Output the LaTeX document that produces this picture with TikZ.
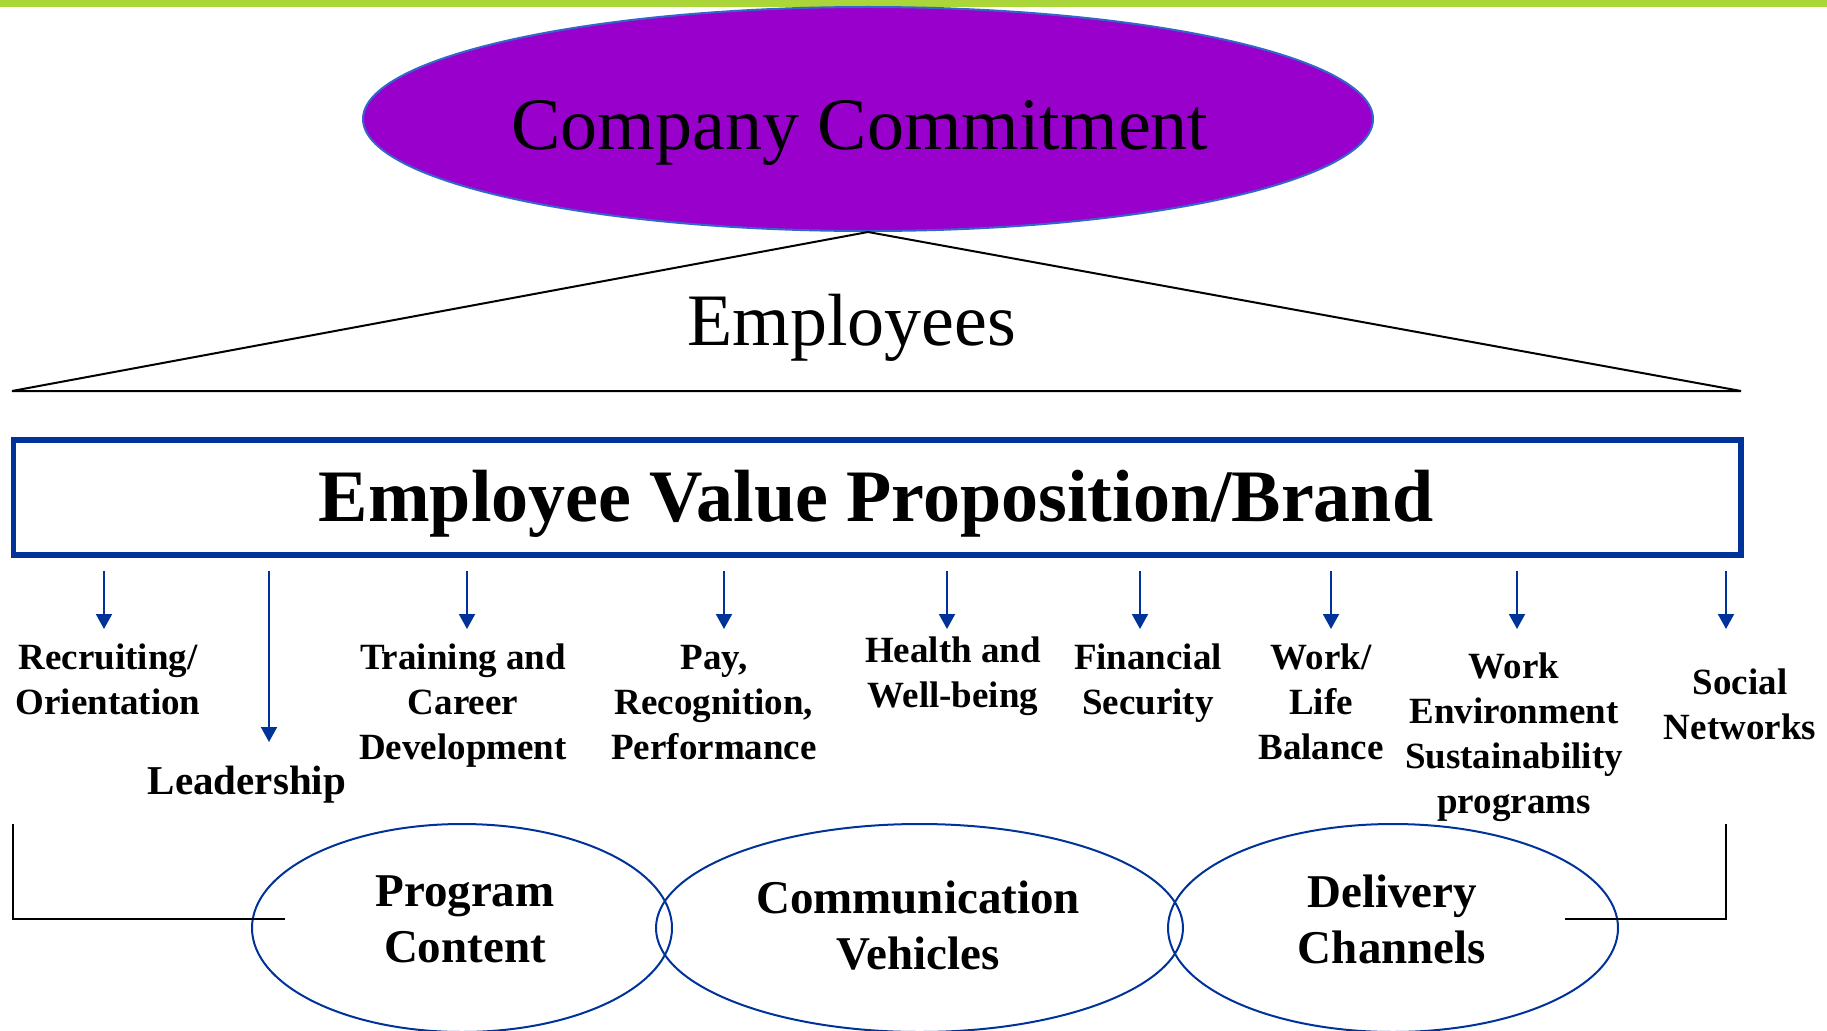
\documentclass[tikz,border=0pt]{standalone}
\usepackage{fontspec}
\setmainfont{Liberation Serif}
\usetikzlibrary{arrows.meta,shapes.geometric}
\definecolor{navy}{RGB}{0,51,153}
\definecolor{plum}{RGB}{153,0,204}
\definecolor{rim}{RGB}{51,102,204}
\definecolor{lime}{RGB}{170,214,58}

\begin{document}
\begin{tikzpicture}[x=1pt,y=-1pt,
  flow/.style={draw=navy, line width=2pt, -{Triangle[width=16pt,length=15pt]}},
  item/.style={font=\fontsize{37}{45}\selectfont\bfseries, align=center, inner sep=0pt},
  oval/.style={ellipse, draw=navy, line width=2pt, inner sep=0pt},
  ovaltext/.style={font=\fontsize{47}{56}\selectfont\bfseries, align=center, inner sep=0pt},
  bracket/.style={draw=black, line width=1.5pt},
  bigtext/.style={font=\fontsize{74}{89}\selectfont, inner sep=0pt},
]
\useasboundingbox (0,0) rectangle (1827,1030);

% top rule
\fill[lime] (0,0) rectangle (1827,7);

% commitment ellipse
\node[ellipse, fill=plum, draw=rim, line width=2pt, minimum width=1010pt,
      minimum height=224pt, inner sep=0pt] (cc) at (868,119) {};
\node[bigtext, anchor=base] (cct) at (860,149) {Company Commitment};

% employees triangle
\coordinate (bl) at (12,391);
\coordinate (br) at (1741,391);
\draw[line width=2pt, line join=miter] (bl) -- (cc.south) -- (br) -- cycle;
\node[bigtext, anchor=base] (emp) at (852,345) {Employees};

% value proposition box
\node[draw=navy, line width=5.5pt, minimum width=1727.5pt, minimum height=115pt,
      inner sep=0pt] (evp) at (877.25,497.5) {};
\node[bigtext, font=\fontsize{74}{89}\selectfont\bfseries, anchor=base]
      (evpt) at (876,521) {Employee Value Proposition/Brand};

% components
\node[item] (rec) at (108,679) {Recruiting/\\Orientation};
\node[item, font=\fontsize{41}{49}\selectfont\bfseries] (lead) at (247,785) {Leadership};
\node[item] (trn) at (463,706) {Training and\\Career\\Development};
\node[item] (pay) at (714,703) {Pay,\\Recognition,\\Performance};
\node[item] (hlt) at (953,676) {Health and\\Well-being};
\node[item] (fin) at (1148,683) {Financial\\Security};
\node[item] (wlb) at (1321,702) {Work/\\Life\\Balance};
\node[item] (env) at (1514,737) {Work\\Environment\\Sustainability\\programs};
\node[item] (soc) at (1740,704) {Social\\Networks};

% arrow ends
\coordinate (e1) at (104,629);
\coordinate (e2) at (269,742);
\coordinate (e3) at (467,629);
\coordinate (e4) at (724,629);
\coordinate (e5) at (947,629);
\coordinate (e6) at (1140,629);
\coordinate (e7) at (1331,629);
\coordinate (e8) at (1517,629);
\coordinate (e9) at (1726,629);
\foreach \e in {e1,e2,e3,e4,e5,e6,e7,e8,e9}
  \draw[flow] (evp.south -| \e) ++(0,13) -- (\e);

% delivery ellipses
\node[oval, minimum width=420pt, minimum height=208pt] (pc) at (462,928) {};
\node[oval, minimum width=527pt, minimum height=208pt] (cv) at (919.5,928) {};
\node[oval, minimum width=450pt, minimum height=208pt] (dc) at (1393,928) {};
\node[ovaltext] (pct) at (465,919) {Program\\Content};
\node[ovaltext] (cvt) at (918,926) {Communication\\Vehicles};
\node[ovaltext] (dct) at (1392,919) {Delivery\\Channels};

% side brackets
\coordinate (lt) at (13,824);
\coordinate (le) at (285,919);
\coordinate (rt) at (1726,824);
\coordinate (re) at (1565,919);
\draw[bracket] (lt) |- (le);
\draw[bracket] (rt) |- (re);
\end{tikzpicture}
\end{document}
